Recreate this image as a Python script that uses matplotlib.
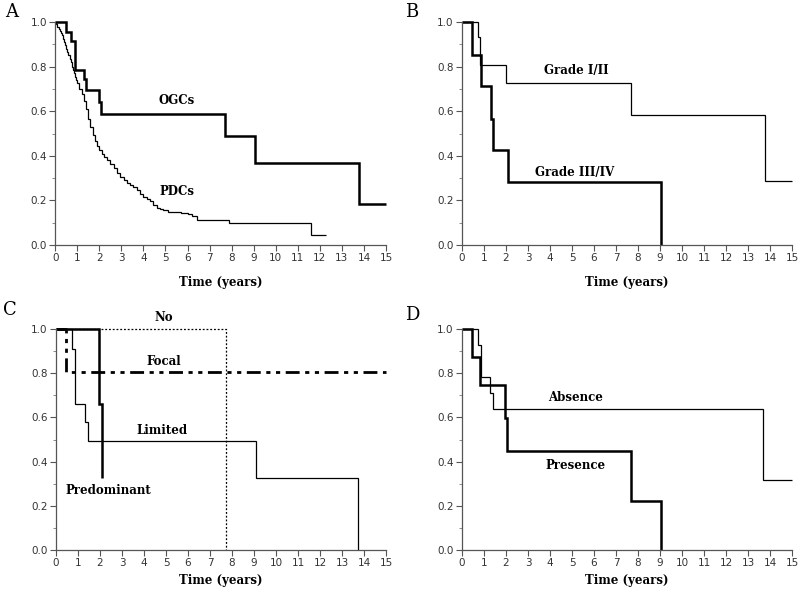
import matplotlib
matplotlib.use("Agg")
import matplotlib.pyplot as plt
from matplotlib.ticker import MultipleLocator

# Panel A: OGCs vs PDCs
ogc_t = [0.48, 0.73, 0.88, 1.29, 1.39, 1.97, 2.07, 7.71, 9.07, 13.76]
ogc_s = [0.957, 0.914, 0.786, 0.744, 0.696, 0.641, 0.588, 0.489, 0.366, 0.182]
ogc_end = 15.0

pdc_t = [0.05, 0.1, 0.15, 0.2, 0.25, 0.3, 0.35, 0.4, 0.45, 0.5, 0.55, 0.6, 0.65,
         0.7, 0.75, 0.8, 0.85, 0.9, 0.95, 1.0, 1.1, 1.2, 1.3, 1.4, 1.5, 1.6, 1.7,
         1.8, 1.9, 2.0, 2.1, 2.2, 2.35, 2.5, 2.65, 2.8, 2.95, 3.1, 3.25, 3.4,
         3.55, 3.7, 3.85, 4.0, 4.15, 4.3, 4.45, 4.6, 4.75, 4.9, 5.1, 5.4, 5.7,
         6.0, 6.2, 6.45, 7.9, 11.58]
pdc_s = [0.99, 0.98, 0.97, 0.96, 0.95, 0.94, 0.925, 0.91, 0.895, 0.88, 0.865,
         0.85, 0.835, 0.82, 0.80, 0.785, 0.77, 0.755, 0.74, 0.725, 0.70, 0.675,
         0.645, 0.61, 0.565, 0.53, 0.495, 0.465, 0.445, 0.425, 0.41, 0.395,
         0.38, 0.365, 0.345, 0.325, 0.305, 0.29, 0.28, 0.27, 0.26, 0.245, 0.23,
         0.215, 0.205, 0.195, 0.18, 0.165, 0.16, 0.155, 0.15, 0.147, 0.142,
         0.138, 0.13, 0.112, 0.097, 0.045]
pdc_end = 12.3

# Panel B: grade
g12_t = [0.73, 0.83, 2.0, 7.7, 13.75]
g12_s = [0.933, 0.808, 0.728, 0.581, 0.289]
g12_end = 15.0
g34_t = [0.46, 0.85, 1.3, 1.42, 2.1, 9.05]
g34_s = [0.853, 0.711, 0.567, 0.425, 0.283, 0.0]
g34_end = 9.05

# Panel C: extent
no_t = [7.72]
no_s = [0.0]
no_end = 7.72
focal_t = [0.455]
focal_s = [0.804]
focal_end = 15.0
lim_t = [0.74, 0.86, 1.3, 1.46, 9.07, 13.71]
lim_s = [0.908, 0.663, 0.58, 0.494, 0.328, 0.0]
lim_end = 13.71
pred_t = [1.96, 2.08]
pred_s = [0.663, 0.328]
pred_end = 2.08

# Panel D: absence / presence
abs_t = [0.73, 0.85, 1.29, 1.43, 13.7]
abs_s = [0.926, 0.785, 0.711, 0.639, 0.319]
abs_end = 15.0
pres_t = [0.455, 0.83, 1.94, 2.06, 7.69, 9.04]
pres_s = [0.875, 0.746, 0.597, 0.447, 0.224, 0.0]
pres_end = 9.04


def km(ax, times, surv, end, **kw):
    x = [0] + list(times) + [end]
    y = [1.0] + list(surv) + [surv[-1]]
    ax.step(x, y, where='post', clip_on=False, solid_joinstyle='miter',
            solid_capstyle='butt', **kw)


def style(ax, pad):
    ax.set_xlim(0, 15)
    ax.set_ylim(0, 1.0)
    for s in ['top', 'right']:
        ax.spines[s].set_visible(False)
    for s in ['left', 'bottom']:
        ax.spines[s].set_color('#555555')
        ax.spines[s].set_linewidth(0.9)
    ax.set_xticks(range(16))
    ax.set_yticks([0, 0.2, 0.4, 0.6, 0.8, 1.0])
    ax.set_yticklabels(['0.0', '0.2', '0.4', '0.6', '0.8', '1.0'])
    ax.yaxis.set_minor_locator(MultipleLocator(0.1))
    ax.tick_params(which='major', direction='out', length=4, width=0.8,
                   color='#555555', labelsize=7.5, labelcolor='#333333', pad=2)
    ax.tick_params(which='minor', direction='out', length=2, width=0.6,
                   color='#777777')
    ax.set_xlabel('Time (years)', family='DejaVu Serif', fontweight='bold',
                  fontsize=8.5, labelpad=pad)


lab = dict(family='DejaVu Serif', fontweight='bold', fontsize=8.5,
           ha='center', va='center')
thick = dict(color='black', lw=1.8)
thin = dict(color='black', lw=0.9)
letter = dict(family='DejaVu Serif', fontsize=13, va='top', ha='left')

fig = plt.figure(figsize=(8, 5.96), dpi=100)
axA = fig.add_axes([0.069, 0.589, 0.4135, 0.374])
axB = fig.add_axes([0.5775, 0.589, 0.4125, 0.374])
axC = fig.add_axes([0.07, 0.077, 0.4125, 0.371])
axD = fig.add_axes([0.5775, 0.077, 0.4125, 0.371])

km(axA, pdc_t, pdc_s, pdc_end, **thin)
km(axA, ogc_t, ogc_s, ogc_end, **thick)
axA.text(5.5, 0.65, 'OGCs', **lab)
axA.text(5.5, 0.24, 'PDCs', **lab)
style(axA, 9)

km(axB, g12_t, g12_s, g12_end, **thin)
km(axB, g34_t, g34_s, g34_end, **thick)
axB.text(5.2, 0.783, 'Grade I/II', **lab)
axB.text(5.1, 0.326, 'Grade III/IV', **lab)
style(axB, 9)

km(axC, no_t, no_s, no_end, color='black', lw=0.9, linestyle=(0, (1.5, 1.5)))
km(axC, lim_t, lim_s, lim_end, **thin)
km(axC, focal_t, focal_s, focal_end, color='black', lw=2.0,
   linestyle=(0, (5, 2, 1.5, 2, 1.5, 2)))
km(axC, pred_t, pred_s, pred_end, **thick)
axC.text(4.88, 1.05, 'No', **lab)
axC.text(4.88, 0.851, 'Focal', **lab)
axC.text(4.84, 0.542, 'Limited', **lab)
axC.text(2.4, 0.271, 'Predominant', **lab)
style(axC, 4)

km(axD, abs_t, abs_s, abs_end, **thin)
km(axD, pres_t, pres_s, pres_end, **thick)
axD.text(5.16, 0.692, 'Absence', **lab)
axD.text(5.16, 0.382, 'Presence', **lab)
style(axD, 4)

fig.text(0.006, 0.995, 'A', **letter)
fig.text(0.506, 0.995, 'B', **letter)
fig.text(0.004, 0.495, 'C', **letter)
fig.text(0.506, 0.487, 'D', **letter)

fig.savefig('out.png', dpi=100)
